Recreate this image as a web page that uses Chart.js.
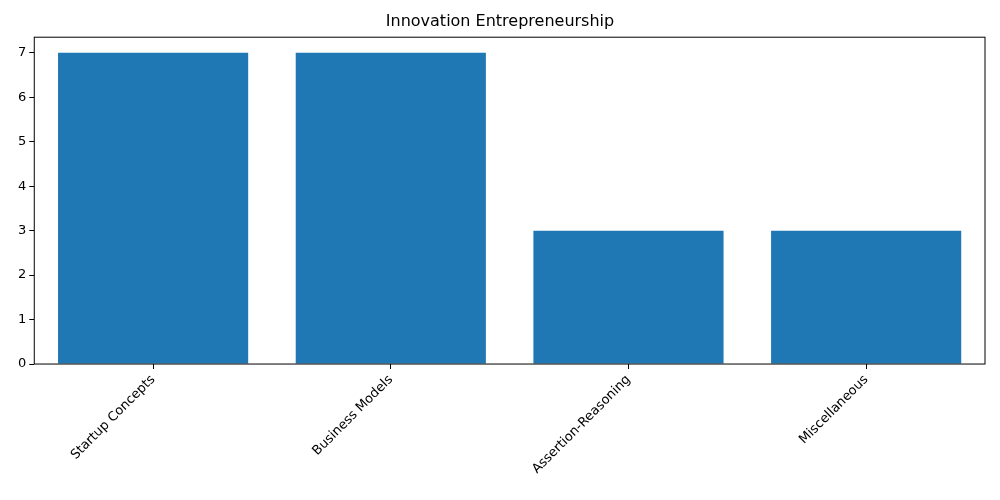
<!DOCTYPE html>
<html>
<head>
<meta charset="utf-8">
<script src="https://cdn.jsdelivr.net/npm/chart.js@4"></script>
<style>
body{margin:0;background:#fff;}
#wrap{width:1000px;height:500px;}
</style>
</head>
<body>
<div id="wrap"><canvas id="chart"></canvas></div>
<script>
const categories = ["Startup Concepts","Business Models","Assertion-Reasoning","Miscellaneous"];
const counts = [7,7,3,3];
const yTicks = [0,1,2,3,4,5,6,7];

Chart.defaults.font.family = "'DejaVu Sans', sans-serif";
Chart.defaults.color = "#000";

// box around the plot area, like matplotlib spines
const frame = {
  id:"frame",
  afterDatasetsDraw(chart){
    const a = chart.chartArea, c = chart.ctx;
    c.save();
    c.strokeStyle = "#000";
    c.lineWidth = 1;
    c.strokeRect(a.left, a.top, a.right-a.left, a.bottom-a.top);
    c.restore();
  }
};

new Chart(document.getElementById("chart"),{
  type:"bar",
  data:{
    labels:categories,
    datasets:[{data:counts, backgroundColor:"#1f77b4", barPercentage:0.8, categoryPercentage:1}]
  },
  options:{
    responsive:true,
    maintainAspectRatio:false,
    animation:false,
    layout:{padding:{left:15,right:15,top:0,bottom:20}},
    plugins:{
      legend:{display:false},
      tooltip:{enabled:false},
      title:{display:true,text:"Innovation Entrepreneurship",font:{size:16,weight:"normal"},padding:{top:12,bottom:6}}
    },
    scales:{
      x:{
        grid:{display:true,offset:false,drawOnChartArea:false,tickLength:5,color:"#000"},
        border:{display:false},
        ticks:{minRotation:45,maxRotation:45,font:{size:13}}
      },
      y:{
        min:0,max:7.35,
        afterBuildTicks(axis){ axis.ticks = yTicks.map(v=>({value:v})); },
        grid:{display:true,drawOnChartArea:false,tickLength:5,color:"#000"},
        border:{display:false},
        ticks:{font:{size:13}}
      }
    }
  },
  plugins:[frame]
});
</script>
</body>
</html>
